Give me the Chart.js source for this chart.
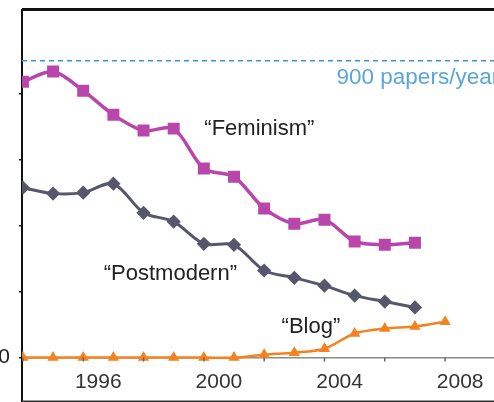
<!DOCTYPE html>
<html>
<head>
<meta charset="utf-8">
<script src="https://cdn.jsdelivr.net/npm/chart.js@4.4.1/dist/chart.umd.min.js"></script>
<style>
html, body { margin: 0; padding: 0; background: #fff; overflow: hidden; }
#wrap { width: 494px; height: 402px; overflow: hidden; position: relative; }
canvas { position: absolute; left: 0; top: 0; }
</style>
</head>
<body>
<div id="wrap"><canvas id="chart" width="530" height="411"></canvas></div>
<script>
// papers per year, each year plotted at mid-year
const years = [1993, 1994, 1995, 1996, 1997, 1998, 1999, 2000, 2001, 2002, 2003, 2004, 2005, 2006, 2007]
const feminism = [836, 867, 809, 736, 688, 694, 573, 548, 452, 406, 418, 352, 342, 348]
const postmodern = [515, 497, 500, 527, 439, 412, 345, 342, 264, 242, 218, 188, 170, 152]
const blog = [0, 0, 0, 0, 0, 0, 0, 0, 9, 15, 27, 73, 88, 94, 109]
const yearLabels = [1996, 2000, 2004, 2008]
const yTicks = [0, 200, 400, 600, 800]
const refLevel = 900
const refText = '900 papers/year'
const names = ['\u201cFeminism\u201d', '\u201cPostmodern\u201d', '\u201cBlog\u201d']

const xMin = 1993.47
const xMax = 2010

const toPoints = (vals) => vals.map((v, i) => ({ x: years[i] + 0.5, y: v }))

// frame lines, small axis marks and the text labels
const extras = {
    id: 'extras',
    afterDraw(chart) {
        const { ctx, chartArea, scales: { x, y } } = chart
        ctx.save()
        ctx.strokeStyle = '#111'
        ctx.lineWidth = 3
        ctx.beginPath()
        ctx.moveTo(chartArea.left, chartArea.top)
        ctx.lineTo(chartArea.right, chartArea.top)
        ctx.stroke()
        ctx.lineWidth = 2
        ctx.strokeStyle = '#333'
        ctx.beginPath()
        ctx.moveTo(chartArea.left, chartArea.bottom)
        ctx.lineTo(chartArea.right, chartArea.bottom)
        ctx.stroke()

        // little marks under the axis every other year
        const y0 = y.getPixelForValue(0)
        ctx.strokeStyle = '#666'
        ctx.lineWidth = 1.5
        for (let i = 0; i < years.length; i += 2) {
            const px = x.getPixelForValue(years[i] + 0.5)
            ctx.beginPath()
            ctx.moveTo(px, y0)
            ctx.lineTo(px, y0 + 4)
            ctx.stroke()
        }

        ctx.font = '22px "Liberation Sans", Arial, sans-serif'
        ctx.textBaseline = 'middle'
        ctx.textAlign = 'center'
        ctx.fillStyle = '#222'
        ctx.fillText(names[0], x.getPixelForValue(2001.34), y.getPixelForValue(694))
        ctx.fillText(names[1], x.getPixelForValue(1998.39), y.getPixelForValue(255))
        ctx.fillText(names[2], x.getPixelForValue(2003.05), y.getPixelForValue(92))

        ctx.textAlign = 'left'
        ctx.fillStyle = '#5aa6dc'
        ctx.font = '22.5px "Liberation Sans", Arial, sans-serif'
        ctx.fillText(refText, x.getPixelForValue(2003.9), y.getPixelForValue(refLevel - 52))
        ctx.restore()
    }
}

new Chart(document.getElementById('chart').getContext('2d'), {
    type: 'line',
    data: {
        datasets: [
            {
                label: names[0],
                data: toPoints(feminism),
                borderColor: '#b946aa',
                backgroundColor: '#b946aa',
                borderWidth: 3.5,
                pointStyle: 'rect',
                pointRadius: 6,
                tension: 0.3
            },
            {
                label: names[1],
                data: toPoints(postmodern),
                borderColor: '#56566c',
                backgroundColor: '#56566c',
                borderWidth: 3,
                pointStyle: 'rectRot',
                pointRadius: 5,
                tension: 0.3
            },
            {
                label: names[2],
                data: toPoints(blog),
                borderColor: '#f5821f',
                backgroundColor: '#f5821f',
                borderWidth: 2.5,
                pointStyle: 'triangle',
                pointRadius: 4,
                tension: 0.3
            },
            {
                label: refText,
                data: [{ x: xMin, y: refLevel }, { x: xMax, y: refLevel }],
                borderColor: '#3d94d6',
                borderWidth: 1.5,
                borderDash: [5, 4],
                pointRadius: 0
            }
        ]
    },
    options: {
        responsive: false,
        animation: false,
        layout: { padding: { top: 9, bottom: 1, left: 0, right: 4 } },
        plugins: {
            legend: { display: false },
            tooltip: { enabled: false }
        },
        scales: {
            x: {
                type: 'linear',
                min: xMin,
                max: xMax,
                position: { y: 0 },
                afterFit: (s) => {
                    s.height = 0
                    s.paddingLeft = 0
                    s.paddingRight = 0
                },
                border: { color: '#8a8a8a', width: 1.5 },
                grid: { drawOnChartArea: false, drawTicks: false },
                afterBuildTicks: (s) => { s.ticks = yearLabels.map(v => ({ value: v })) },
                ticks: {
                    autoSkip: false,
                    maxRotation: 0,
                    padding: 12,
                    color: '#333',
                    font: { size: 21, family: '"Liberation Sans", Arial, sans-serif' },
                    callback: (v) => String(v)
                }
            },
            y: {
                type: 'linear',
                min: -133,
                max: 1055,
                afterFit: (s) => {
                    s.width = 22
                    s.paddingTop = 0
                    s.paddingBottom = 0
                },
                afterBuildTicks: (s) => { s.ticks = yTicks.map(v => ({ value: v })) },
                border: { color: '#111', width: 2 },
                grid: { drawOnChartArea: false, tickLength: 3, color: '#222', lineWidth: 1.5 },
                ticks: {
                    padding: 9,
                    color: '#222',
                    font: { size: 21, family: '"Liberation Sans", Arial, sans-serif' },
                    callback: (v) => v === 0 ? '0' : ''
                }
            }
        }
    },
    plugins: [extras]
})
</script>
</body>
</html>
